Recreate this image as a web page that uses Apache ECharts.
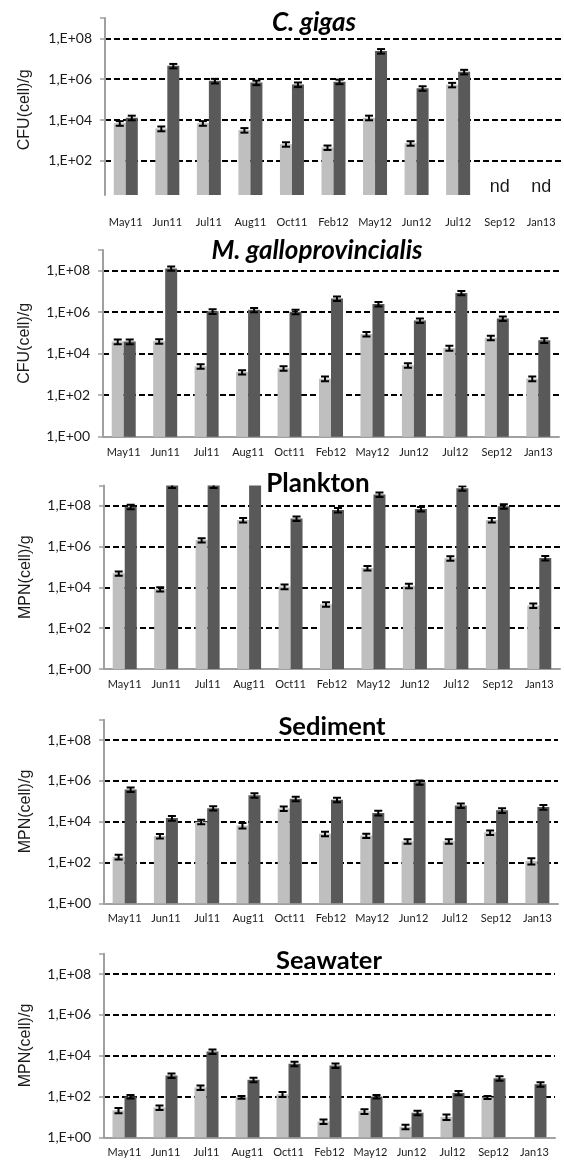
<!DOCTYPE html>
<html><head><meta charset="utf-8">
<script src="https://cdn.jsdelivr.net/npm/echarts@6/dist/echarts.min.js"></script>
<style>html,body{margin:0;padding:0;background:#fff}#c{width:564px;height:1163px}</style>
</head><body><div id="c"></div>
<script>
// ---------------- DATA ----------------
const categories = ['May11','Jun11','Jul11','Aug11','Oct11','Feb12','May12','Jun12','Jul12','Sep12','Jan13'];
const titles = ['C. gigas','M. galloprovincialis','Plankton','Sediment','Seawater'];
const yNames = ['CFU(cell)/g','CFU(cell)/g','MPN(cell)/g','MPN(cell)/g','MPN(cell)/g'];
const ndCategories = ['Sep12','Jan13'];
const ndLabel = 'nd';

const gigasLight     = [7000, 3800, 7000, 3200, 650, 450, 13000, 730, 530000, null, null];
const gigasLightErr  = [1800, 1000, 1800, 800, 160, 110, 3300, 180, 130000, null, null];
const gigasDark      = [13000, 4500000, 830000, 680000, 550000, 760000, 24000000, 360000, 2300000, null, null];
const gigasDarkErr   = [3300, 1100000, 210000, 170000, 140000, 190000, 6000000, 90000, 580000, null, null];

const musselLight    = [39000, 40000, 2500, 1300, 2000, 630, 90000, 2800, 19000, 59000, 630];
const musselLightErr = [10000, 10000, 600, 300, 500, 160, 22000, 700, 5000, 15000, 160];
const musselDark     = [39000, 130000000, 1100000, 1300000, 1050000, 4600000, 2500000, 400000, 8500000, 500000, 44000];
const musselDarkErr  = [10000, 30000000, 280000, 300000, 260000, 1100000, 600000, 100000, 2000000, 120000, 11000];

const planktonLight    = [49000, 8300, 2100000, 20000000, 11000, 1500, 90000, 12000, 270000, 20000000, 1300];
const planktonLightErr = [12000, 2000, 500000, 5000000, 2800, 380, 22000, 3000, 70000, 5000000, 330];
const planktonDark     = [90000000, 1000000000, 1000000000, 2000000000, 24000000, 62000000, 360000000, 70000000, 730000000, 95000000, 280000];
const planktonDarkErr  = [22000000, 250000000, 250000000, 500000000, 6000000, 15000000, 90000000, 18000000, 180000000, 24000000, 70000];

const sedimentLight    = [190, 2000, 10000, 6600, 44000, 2600, 2100, 1100, 1100, 3000, 120];
const sedimentLightErr = [50, 500, 2500, 2000, 11000, 650, 500, 280, 280, 750, 40];
const sedimentDark     = [380000, 15000, 46000, 200000, 135000, 120000, 27000, 850000, 63000, 36000, 52000];
const sedimentDarkErr  = [95000, 3800, 11000, 50000, 34000, 30000, 7000, 210000, 16000, 9000, 13000];

const seawaterLight    = [21, 29, 280, 92, 130, 6, 19, 3.3, 10, 90, null];
const seawaterLightErr = [6, 7, 70, 15, 35, 1.5, 5, 0.8, 3, 15, null];
const seawaterDark     = [100, 1070, 16000, 660, 4000, 3300, 100, 16, 150, 780, 400];
const seawaterDarkErr  = [20, 270, 4000, 160, 1000, 800, 20, 4, 35, 190, 100];

const yMin = 1, yMax = 1e9, yIntervalDecades = 2;
const gigasFloor = 2.1; // bottom of the C. gigas bars/axis

const panels = [
  {light: gigasLight, lightErr: gigasLightErr, dark: gigasDark, darkErr: gigasDarkErr},
  {light: musselLight, lightErr: musselLightErr, dark: musselDark, darkErr: musselDarkErr},
  {light: planktonLight, lightErr: planktonLightErr, dark: planktonDark, darkErr: planktonDarkErr},
  {light: sedimentLight, lightErr: sedimentLightErr, dark: sedimentDark, darkErr: sedimentDarkErr},
  {light: seawaterLight, lightErr: seawaterLightErr, dark: seawaterDark, darkErr: seawaterDarkErr}
];

// ---------------- LAYOUT / STYLE ----------------
const layout = [
  {top: 18,  height: 183.6, left: 105, right: 2, titleX: 314, titleY: 23,  titleFont: 'italic bold 26px Lato'},
  {top: 250, height: 186.7, left: 103, right: 5, titleX: 317, titleY: 251, titleFont: 'italic bold 26px Lato'},
  {top: 485.4, height: 183.6, left: 104, right: 4, titleX: 318, titleY: 484, titleFont: 'bold 26px Lato'},
  {top: 719.7, height: 183.6, left: 104, right: 6, titleX: 332, titleY: 727, titleFont: 'bold 25.5px Lato'},
  {top: 953.7, height: 183.6, left: 104, right: 9, titleX: 329, titleY: 961, titleFont: 'bold 25.5px Lato'}
];
const LIGHT = '#BFBFBF', DARK = '#595959', AXIS = '#A0A0A0';
const BAR_W = 12;

function fmt(v){
  const e = Math.round(Math.log10(v));
  if (e > 8) return '';
  return '1,E+' + (e < 10 ? '0' : '') + e;
}

const grids = [], xAxes = [], yAxes = [], series = [], graphics = [];

function errSeries(axisIdx, vals, errs, side){
  const d = [];
  vals.forEach((v,i)=>{ if (v != null && errs[i] != null) d.push([i, v, errs[i]]); });
  return {
    type: 'custom', xAxisIndex: axisIdx, yAxisIndex: axisIdx, z: 10, clip: true, silent: true,
    data: d,
    renderItem: function(params, api){
      const i = api.value(0), v = api.value(1), e = api.value(2);
      const p1 = api.coord([i, v + e]);
      const p2 = api.coord([i, Math.max(v - e, 1e-3)]);
      const x = p1[0] + side * BAR_W / 2;
      const st = {stroke: '#000', lineWidth: 2};
      return {type: 'group', children: [
        {type: 'line', shape: {x1: x, y1: p1[1], x2: x, y2: p2[1]}, style: st},
        {type: 'line', shape: {x1: x - 4, y1: p1[1], x2: x + 4, y2: p1[1]}, style: st},
        {type: 'line', shape: {x1: x - 4, y1: p2[1], x2: x + 4, y2: p2[1]}, style: st}
      ]};
    }
  };
}

const yLabelStyle = {fontFamily: 'Lato', fontSize: 14, color: '#1a1a1a', margin: 13};
const xLabelStyle = {fontFamily: 'Lato', fontSize: 11, color: '#1a1a1a', interval: 0, hideOverlap: false};
const yNameStyle = {fontFamily: 'Liberation Sans', fontSize: 16, color: '#1a1a1a'};
const splitLineStyle = {show: true, showMinLine: false, showMaxLine: false,
  lineStyle: {color: '#000', width: 2, type: [6, 3]}};

panels.forEach((p, k) => {
  const L = layout[k];
  if (k === 0) {
    grids.push({left: L.left, right: L.right, top: L.top, height: L.height});
    const gi = grids.length - 1;
    xAxes.push({type: 'category', gridIndex: gi, data: categories,
      axisLine: {show: false}, axisTick: {show: false},
      axisLabel: Object.assign({margin: 15}, xLabelStyle)});
    yAxes.push({type: 'log', gridIndex: gi, logBase: 10, min: yMin, max: yMax, interval: yIntervalDecades,
      name: yNames[k], nameLocation: 'middle', nameGap: 72, nameTextStyle: yNameStyle,
      axisLine: {show: false},
      axisTick: {show: true, length: 5, lineStyle: {color: AXIS, width: 1.5}},
      axisLabel: Object.assign({showMinLabel: false, formatter: fmt}, yLabelStyle),
      splitLine: splitLineStyle});
    const decades = Math.log10(yMax) - Math.log10(yMin);
    const cut = Math.log10(gigasFloor) / decades * L.height;
    grids.push({left: L.left, right: L.right, top: L.top, height: L.height - cut});
    const bi = grids.length - 1;
    xAxes.push({type: 'category', gridIndex: bi, data: categories,
      axisLine: {show: false}, axisTick: {show: false}, axisLabel: {show: false}});
    yAxes.push({type: 'log', gridIndex: bi, logBase: 10, min: gigasFloor, max: yMax,
      axisLine: {show: true, lineStyle: {color: AXIS, width: 2}},
      axisTick: {show: false}, axisLabel: {show: false}, splitLine: {show: false}});
    p.axisIdx = bi;
  } else {
    grids.push({left: L.left, right: L.right, top: L.top, height: L.height});
    const gi = grids.length - 1;
    xAxes.push({type: 'category', gridIndex: gi, data: categories,
      axisLine: {show: true, lineStyle: {color: AXIS, width: 2}}, axisTick: {show: false},
      axisLabel: Object.assign({margin: 10}, xLabelStyle)});
    yAxes.push({type: 'log', gridIndex: gi, logBase: 10, min: yMin, max: yMax, interval: yIntervalDecades,
      name: yNames[k], nameLocation: 'middle', nameGap: 70, nameTextStyle: yNameStyle,
      axisLine: {show: true, lineStyle: {color: AXIS, width: 2}},
      axisTick: {show: true, length: 5, lineStyle: {color: AXIS, width: 1.5}},
      axisLabel: Object.assign({formatter: fmt}, yLabelStyle),
      splitLine: splitLineStyle});
    p.axisIdx = gi;
  }
  const a = p.axisIdx;
  series.push({type: 'bar', xAxisIndex: a, yAxisIndex: a, data: p.light, barWidth: BAR_W, barGap: '0%',
    itemStyle: {color: LIGHT}, silent: true, clip: true});
  series.push({type: 'bar', xAxisIndex: a, yAxisIndex: a, data: p.dark, barWidth: BAR_W, barGap: '0%',
    itemStyle: {color: DARK}, silent: true, clip: true});
  series.push(errSeries(a, p.light, p.lightErr, -1));
  series.push(errSeries(a, p.dark, p.darkErr, 1));
  graphics.push({type: 'text', z: 100, style: {text: titles[k], x: L.titleX, y: L.titleY,
    align: 'center', verticalAlign: 'middle', font: L.titleFont, fill: '#000'}});
});

const chart = echarts.init(document.getElementById('c'), null, {renderer: 'canvas'});
chart.setOption({
  animation: false, backgroundColor: '#fff',
  grid: grids, xAxis: xAxes, yAxis: yAxes, series: series, graphic: graphics
});
const ndGraphics = ndCategories.map(c => {
  const x = chart.convertToPixel({xAxisIndex: panels[0].axisIdx}, c);
  return {type: 'text', z: 100, style: {text: ndLabel, x: x, y: 187, align: 'center', verticalAlign: 'middle',
    font: '18px "Liberation Sans"', fill: '#1a1a1a'}};
});
chart.setOption({graphic: graphics.concat(ndGraphics)});
</script></body></html>
